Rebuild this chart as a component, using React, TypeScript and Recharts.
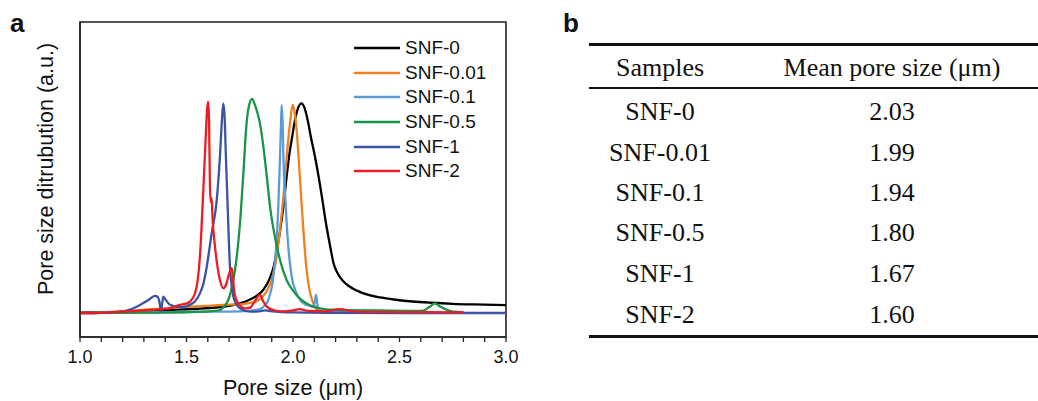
import React from 'react';
import { LineChart, Line, XAxis, YAxis, ReferenceArea, Legend } from 'recharts';

// Pore size distribution curves: [pore size (µm), intensity (a.u.)]
const SNF0: [number, number][] = [
  [1.0, 0.2], [1.2, 0.5], [1.4, 1.4], [1.55, 2.0], [1.65, 2.7], [1.7, 3.3], [1.75, 4.5], [1.78, 5.5],
  [1.81, 6.9], [1.84, 8.8], [1.86, 10.8], [1.89, 16], [1.91, 22], [1.925, 30], [1.94, 39], [1.955, 50],
  [1.97, 64], [1.985, 76], [1.995, 82], [2.01, 91], [2.025, 96.5], [2.04, 98.4], [2.055, 96], [2.07, 90],
  [2.085, 82], [2.1, 75], [2.115, 67], [2.135, 55], [2.155, 42], [2.175, 31], [2.19, 23.5], [2.21, 18.5],
  [2.235, 15], [2.26, 12.8], [2.3, 10.5], [2.35, 8.6], [2.41, 7.3], [2.49, 6.1], [2.56, 5.4], [2.65, 4.8],
  [2.75, 4.3], [2.85, 4.0], [3.0, 3.7],
];
const SNF001: [number, number][] = [
  [1.0, 0], [1.1, 0.3], [1.2, 0.8], [1.33, 1.7], [1.42, 2.3], [1.52, 3.0], [1.62, 3.5], [1.7, 3.9],
  [1.77, 4.2], [1.8, 4.8], [1.83, 5.5], [1.85, 7.0], [1.87, 9.2], [1.885, 12], [1.9, 15.5], [1.912, 20.5],
  [1.923, 26.4], [1.939, 39], [1.955, 54.6], [1.97, 73], [1.986, 89], [1.998, 97.7], [2.008, 94], [2.016, 87],
  [2.025, 75], [2.036, 58], [2.048, 40], [2.061, 23], [2.075, 12], [2.09, 6], [2.105, 2.5], [2.12, 1.0],
  [2.18, 0.4], [2.3, 0.3],
];
const SNF01: [number, number][] = [
  [1.05, 0], [1.2, 0.2], [1.4, 0.4], [1.6, 0.6], [1.75, 0.8], [1.82, 1.3], [1.853, 2.2], [1.87, 4],
  [1.884, 6.1], [1.894, 9.5], [1.904, 14], [1.912, 21], [1.92, 29.6], [1.931, 50], [1.939, 73], [1.944, 90],
  [1.947, 97.7], [1.951, 90], [1.955, 73], [1.966, 50], [1.978, 31], [1.994, 17], [2.017, 9.2], [2.035, 6],
  [2.05, 4.5], [2.08, 3.3], [2.095, 3], [2.102, 5], [2.108, 8.5], [2.113, 5], [2.119, 1.4], [2.15, 0.6],
  [2.3, 0.3],
];
const SNF05: [number, number][] = [
  [1.0, 0], [1.2, 0.1], [1.4, 0.2], [1.55, 0.5], [1.62, 0.9], [1.657, 1.4], [1.68, 3.5], [1.696, 6.1],
  [1.708, 10], [1.72, 15.5], [1.736, 26.4], [1.751, 42], [1.767, 65.6], [1.782, 89], [1.795, 98], [1.808, 100.5],
  [1.82, 98], [1.833, 94], [1.845, 89], [1.861, 78], [1.877, 64], [1.892, 50], [1.915, 35.8], [1.939, 24.9],
  [1.97, 15.5], [2.0, 10.5], [2.03, 7], [2.064, 4.5], [2.095, 3], [2.127, 2.2], [2.205, 1.4], [2.4, 1.2],
  [2.58, 1.0], [2.612, 1.1], [2.64, 2.8], [2.667, 4.5], [2.69, 3], [2.72, 1.6], [2.753, 0.6], [2.8, 0.3],
];
const SNF1: [number, number][] = [
  [1.0, 0], [1.1, 0.1], [1.156, 0.3], [1.219, 1.1], [1.282, 3.8], [1.32, 6], [1.352, 8], [1.365, 7.5],
  [1.375, 4], [1.38, 0.6], [1.385, 4], [1.391, 7.7], [1.4, 6.5], [1.423, 3.8], [1.469, 2.7], [1.516, 3.8],
  [1.54, 5.5], [1.563, 9.2], [1.58, 14], [1.595, 21.7], [1.618, 37.4], [1.642, 53], [1.657, 73.4], [1.666, 90],
  [1.673, 98.4], [1.679, 92], [1.685, 73.4], [1.696, 42], [1.704, 21.7], [1.712, 13], [1.72, 7.7], [1.735, 4],
  [1.751, 2.2], [1.798, 0.6], [1.84, 0.8], [1.87, 1.2], [1.9, 0.8], [2.0, 0.3], [2.2, 0.1], [2.5, 0], [3.0, 0],
];
const SNF2: [number, number][] = [
  [1.0, 0], [1.094, 0.1], [1.188, 0.6], [1.329, 1.4], [1.42, 2.2], [1.469, 3.8], [1.501, 4.5], [1.516, 5.3],
  [1.54, 9.2], [1.552, 15], [1.563, 26.4], [1.579, 57.7], [1.59, 82], [1.597, 96], [1.602, 99.2], [1.606, 90],
  [1.61, 60], [1.614, 52], [1.618, 54], [1.622, 45], [1.634, 31], [1.645, 22], [1.657, 15.5], [1.673, 11.6],
  [1.685, 13], [1.696, 17], [1.712, 21], [1.718, 17], [1.723, 10.8], [1.733, 6.5], [1.743, 4.5], [1.775, 2.2],
  [1.8, 2.5], [1.814, 4.5], [1.83, 7], [1.845, 8.5], [1.86, 5.5], [1.877, 3], [1.907, 1.4], [1.95, 0.8],
  [2.0, 1.2], [2.03, 1.8], [2.07, 1.0], [2.15, 0.8], [2.22, 1.8], [2.28, 0.8], [2.4, 0.5], [2.6, 0.4], [2.8, 0.3],
];

const SERIES_NAMES = ['SNF-0', 'SNF-0.01', 'SNF-0.1', 'SNF-0.5', 'SNF-1', 'SNF-2'];
const SERIES_COLORS = ['#000000', '#F07F1F', '#5B9BD5', '#1B9447', '#3A53A4', '#ED1C24'];
const SERIES_DATA = [SNF0, SNF001, SNF01, SNF05, SNF1, SNF2];

const X_TICKS = [1.0, 1.1, 1.2, 1.3, 1.4, 1.5, 1.6, 1.7, 1.8, 1.9, 2.0, 2.1, 2.2, 2.3, 2.4, 2.5, 2.6, 2.7, 2.8, 2.9, 3.0];
const X_LABELED = [1.0, 1.5, 2.0, 2.5, 3.0];

// Table (panel b)
const TABLE_HEADERS = ['Samples', 'Mean pore size (μm)'];
const TABLE_SAMPLES = ['SNF-0', 'SNF-0.01', 'SNF-0.1', 'SNF-0.5', 'SNF-1', 'SNF-2'];
const TABLE_MEAN = ['2.03', '1.99', '1.94', '1.80', '1.67', '1.60'];

const SANS = '"Liberation Sans", Arial, Helvetica, sans-serif';
const SERIF = '"Liberation Serif", "Times New Roman", Times, serif';

const Y_DOMAIN: [number, number] = [-11.27, 136.6];

const renderLegend = () => (
  <div style={{ fontFamily: SANS, fontSize: 19, color: '#111' }}>
    {SERIES_NAMES.map((n, i) => (
      <div key={n} style={{ display: 'flex', alignItems: 'center', height: 24.6 }}>
        <svg width={46} height={4} style={{ display: 'block' }}>
          <line x1={0} y1={2} x2={46} y2={2} stroke={SERIES_COLORS[i]} strokeWidth={2.4} />
        </svg>
        <span style={{ marginLeft: 5, lineHeight: '24px' }}>{n}</span>
      </div>
    ))}
  </div>
);

const XLabel = () => (
  <text x={293} y={395} textAnchor="middle" fontFamily={SANS} fontSize={21.5} fill="#111">
    Pore size (μm)
  </text>
);

const YLabel = () => (
  <text x={53} y={169} transform="rotate(-90 53 169)" textAnchor="middle" fontFamily={SANS} fontSize={21.5} fill="#111">
    Pore size ditrubution (a.u.)
  </text>
);

export default function App() {
  const rowCenters = [111.7, 152.7, 193.3, 233.3, 274, 315];
  const cell = (left: number, width: number, top: number): React.CSSProperties => ({
    position: 'absolute', left, top, width, height: 40, lineHeight: '40px', textAlign: 'center',
    fontFamily: SERIF, fontSize: 26, color: '#111', whiteSpace: 'nowrap',
  });
  return (
    <div style={{ position: 'absolute', left: 0, top: 0, width: 1038, height: 401, background: '#fff', overflow: 'hidden' }}>
      <div style={{ position: 'absolute', left: 0, top: 0 }}>
        <LineChart width={520} height={401} margin={{ top: 22, right: 14, bottom: 2, left: 0 }}>
          <XAxis
            type="number"
            dataKey="x"
            domain={[1, 3]}
            ticks={X_TICKS}
            interval={0}
            allowDataOverflow
            tickFormatter={(v: number) => (X_LABELED.some((t) => Math.abs(t - v) < 1e-6) ? v.toFixed(1) : '')}
            tick={{ fontSize: 18, fill: '#111', fontFamily: SANS }}
            tickSize={5}
            tickMargin={8}
            height={62}
            stroke="#222"
            strokeWidth={1.3}
            label={XLabel}
          />
          <YAxis
            type="number"
            dataKey="y"
            domain={Y_DOMAIN}
            allowDataOverflow
            tick={false}
            tickLine={false}
            width={80}
            stroke="#222"
            strokeWidth={1.3}
            label={YLabel}
          />
          <ReferenceArea x1={1} x2={3} y1={Y_DOMAIN[0]} y2={Y_DOMAIN[1]} fill="none" stroke="#222" strokeWidth={1.6} ifOverflow="visible" />
          {SERIES_DATA.map((d, i) => (
            <Line
              key={SERIES_NAMES[i]}
              name={SERIES_NAMES[i]}
              data={d.map(([x, y]) => ({ x, y }))}
              dataKey="y"
              type="monotone"
              stroke={SERIES_COLORS[i]}
              strokeWidth={2.3}
              dot={false}
              activeDot={false}
              isAnimationActive={false}
            />
          ))}
          <Legend
            content={renderLegend}
            layout="vertical"
            align="center"
            verticalAlign="middle"
            wrapperStyle={{ position: 'absolute', left: 354, top: 36, width: 170, height: 150 }}
          />
        </LineChart>
      </div>

      <div style={{ position: 'absolute', left: 10, top: 10, fontFamily: SANS, fontWeight: 'bold', fontSize: 26, lineHeight: '26px', color: '#111' }}>a</div>
      <div style={{ position: 'absolute', left: 563, top: 10, fontFamily: SANS, fontWeight: 'bold', fontSize: 26, lineHeight: '26px', color: '#111' }}>b</div>

      {/* Table */}
      <div style={{ position: 'absolute', left: 589, top: 42.5, width: 449, height: 3, background: '#111' }} />
      <div style={{ position: 'absolute', left: 589, top: 87.3, width: 449, height: 2.2, background: '#111' }} />
      <div style={{ position: 'absolute', left: 589, top: 334.8, width: 449, height: 3.2, background: '#111' }} />
      <div style={cell(560, 200, 48.3)}>{TABLE_HEADERS[0]}</div>
      <div style={cell(742, 300, 48.3)}>{TABLE_HEADERS[1]}</div>
      {TABLE_SAMPLES.map((s, i) => (
        <React.Fragment key={s}>
          <div style={cell(560, 200, rowCenters[i] - 20)}>{s}</div>
          <div style={cell(742, 300, rowCenters[i] - 20)}>{TABLE_MEAN[i]}</div>
        </React.Fragment>
      ))}
    </div>
  );
}
